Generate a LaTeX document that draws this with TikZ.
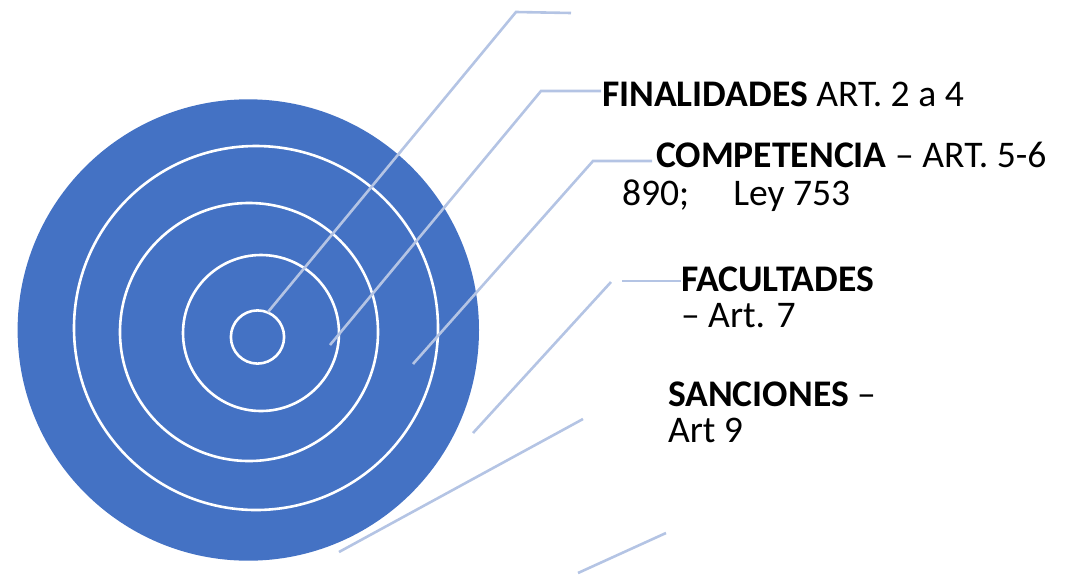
\documentclass[tikz,border=0pt]{standalone}
\usepackage{fontspec}
\setmainfont{Carlito}
\definecolor{tblue}{RGB}{68,114,196}
\definecolor{tline}{RGB}{180,196,228}
\begin{document}
\begin{tikzpicture}[x=1pt,y=-1pt,
  ring/.style={draw=white,line width=2.6pt},
  lead/.style={draw=tline,line width=2.6pt},
  lbl/.style={anchor=base west,inner sep=0pt,outer sep=0pt,font=\fontsize{37.6}{38}\selectfont},
]
\useasboundingbox (0,0) rectangle (1073,574);
% target
\fill[tblue] (248.3,330) circle[radius=230.7pt];
\draw[ring] (256,328) circle[radius=182pt];
\draw[ring] (249,332) circle[radius=129pt];
\draw[ring] (261,333) circle[radius=78pt];
\draw[ring] (257.5,337) circle[radius=26.6pt];
% connector end points
\coordinate (a0) at (268,312);
\coordinate (a1) at (516,12);
\coordinate (a2) at (571,13);
\coordinate (b0) at (330,345);
\coordinate (b1) at (541,91);
\coordinate (b2) at (601,91);
\coordinate (c0) at (413,364);
\coordinate (c1) at (593,161);
\coordinate (c2) at (652,161);
\coordinate (d0) at (473,433);
\coordinate (d1) at (611,282);
\coordinate (d2) at (622,281);
\coordinate (d3) at (681,281);
\coordinate (e0) at (339,552);
\coordinate (e1) at (583,419);
\coordinate (f0) at (578,573);
\coordinate (f1) at (666,533);
% labels
\node[lbl] (fin) at (602,106) {\textbf{FINALIDADES} ART. 2 a 4};
\node[lbl] (comp) at (656,167.7) {\textbf{COMPETENCIA} – ART. 5-6};
\node[lbl] (comp2) at (622,205) {890;\hspace{44pt}Ley 753};
\node[lbl] (fac) at (681,291) {\textbf{FACULTADES}};
\node[lbl] (fac2) at (681,327.7) {– Art. 7};
\node[lbl] (san) at (668,406.7) {\textbf{SANCIONES} –};
\node[lbl] (san2) at (668,442.7) {Art 9};
% connectors
\draw[lead] (a0) -- (a1) -- (a2);
\draw[lead] (b0) -- (b1) -- (b2);
\draw[lead] (c0) -- (c1) -- (c2);
\draw[lead] (d0) -- (d1);
\draw[lead] (d2) -- (d3);
\draw[lead] (e0) -- (e1);
\draw[lead] (f0) -- (f1);
\end{tikzpicture}
\end{document}
